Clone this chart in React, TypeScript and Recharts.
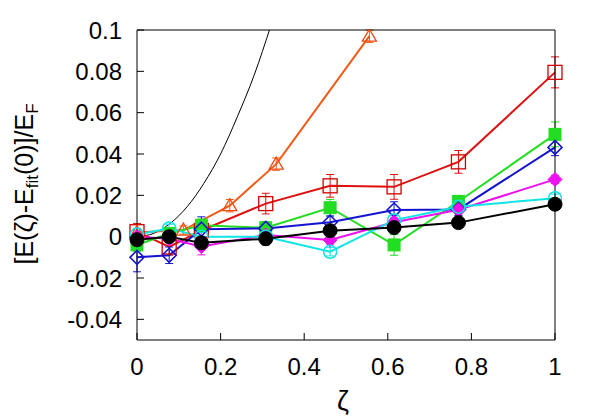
import { ErrorBar, Line, LineChart, XAxis, YAxis } from "recharts";

// zeta grid used by most runs, and the finer one of the orange run
const zeta = [0, 0.077, 0.154, 0.308, 0.462, 0.615, 0.769, 1];
const zetaOrange = [0, 0.111, 0.222, 0.333, 0.556];

const redY = [0.0024, -0.005, 0.003, 0.016, 0.0246, 0.0241, 0.0362, 0.0795];
const redErr = [0.004, 0.004, 0.005, 0.005, 0.0055, 0.006, 0.0055, 0.0075];
const orangeY = [0.002, 0.0032, 0.015, 0.0351, 0.097];
const orangeErr = [0.002, 0.002, 0.003, 0.003, 0.003];
const greenY = [-0.004, 0.0015, 0.0055, 0.0043, 0.014, -0.004, 0.017, 0.0495];
const greenErr = [0.003, 0.003, 0.003, 0.003, 0.004, 0.005, 0.003, 0.006];
const blueY = [-0.01, -0.009, 0.0036, 0.004, 0.007, 0.0129, 0.0132, 0.0432];
const blueErr = [0.007, 0.004, 0.006, 0.003, 0.003, 0.004, 0.003, 0.004];
const magentaY = [0.0, -0.001, -0.0048, 0.0008, -0.0016, 0.007, 0.013, 0.0277];
const magentaErr = [0.002, 0.002, 0.004, 0.002, 0.002, 0.002, 0.002, 0.002];
const cyanY = [0.001, 0.004, 0.0, 0.0, -0.0073, 0.008, 0.0145, 0.0186];
const cyanErr = [0.002, 0.002, 0.002, 0.002, 0.002, 0.002, 0.002, 0.002];
const blackY = [-0.0015, 0.0, -0.003, -0.001, 0.0029, 0.0044, 0.0068, 0.0157];
const blackErr = [0.002, 0.002, 0.002, 0.003, 0.002, 0.002, 0.002, 0.002];

// thin reference curve
const curveZeta = [0, 0.04, 0.08, 0.12, 0.16, 0.2, 0.24, 0.28, 0.32];
const curveY = [0, 0.0016, 0.0065, 0.0145, 0.0258, 0.04, 0.058, 0.078, 0.102];

const xTicks = [0, 0.2, 0.4, 0.6, 0.8, 1];
const yTicks = [-0.04, -0.02, 0, 0.02, 0.04, 0.06, 0.08, 0.1];

const FONT = "'Liberation Sans', Arial, sans-serif";

const rows = (xs: number[], ys: number[], es?: number[]) =>
  xs.map((x, i) => ({ x, y: ys[i], e: es ? es[i] : 0 }));

const openSquare = (c: string) => (p: any) =>
  <rect key={`s${p.index}`} x={p.cx - 7} y={p.cy - 7} width={14} height={14} fill="none" stroke={c} strokeWidth={1.3} />;
const fillSquare = (c: string) => (p: any) =>
  <rect key={`f${p.index}`} x={p.cx - 6} y={p.cy - 6} width={12} height={12} fill={c} stroke={c} />;
const openTriangle = (c: string) => (p: any) =>
  <path key={`t${p.index}`} d={`M${p.cx},${p.cy - 7} L${p.cx + 7},${p.cy + 5} L${p.cx - 7},${p.cy + 5} Z`} fill="none" stroke={c} strokeWidth={1.3} />;
const diamond = (c: string, filled: boolean) => (p: any) =>
  <path key={`d${p.index}`} d={`M${p.cx},${p.cy - 7} L${p.cx + 7},${p.cy} L${p.cx},${p.cy + 7} L${p.cx - 7},${p.cy} Z`} fill={filled ? c : "none"} stroke={c} strokeWidth={filled ? 1 : 1.6} />;
const circle = (c: string, filled: boolean) => (p: any) =>
  <circle key={`c${p.index}`} cx={p.cx} cy={p.cy} r={filled ? 7 : 6.5} fill={filled ? c : "none"} stroke={c} strokeWidth={filled ? 1 : 1.5} />;

const series = [
  { name: "red", color: "#e01010", data: rows(zeta, redY, redErr), dot: openSquare("#d00000") },
  { name: "orange", color: "#f05a18", data: rows(zetaOrange, orangeY, orangeErr), dot: openTriangle("#f04a10") },
  { name: "green", color: "#22dd22", data: rows(zeta, greenY, greenErr), dot: fillSquare("#22dd22") },
  { name: "blue", color: "#1414d0", data: rows(zeta, blueY, blueErr), dot: diamond("#1414d0", false) },
  { name: "magenta", color: "#ee10ee", data: rows(zeta, magentaY, magentaErr), dot: diamond("#ee10ee", true) },
  { name: "cyan", color: "#10e4e4", data: rows(zeta, cyanY, cyanErr), dot: circle("#10e4e4", false) },
  { name: "black", color: "#000000", data: rows(zeta, blackY, blackErr), dot: circle("#000000", true) },
];

const tickStyle = { fontSize: 24, fill: "#000", fontFamily: FONT };

function YLabel() {
  return (
    <text transform="rotate(-90)" x={-184} y={33} textAnchor="middle" fontSize={25} fontFamily={FONT} fill="#000">
      [E(ζ)-E<tspan fontSize={17} dy={5}>fit</tspan>
      <tspan dy={-5}>(0)]/E</tspan>
      <tspan fontSize={17} dy={5}>F</tspan>
    </text>
  );
}

function XLabel(props: any) {
  const vb = props.viewBox || { x: 137, width: 418, y: 340 };
  return (
    <text x={vb.x + vb.width / 2 - 3} y={vb.y + 70} textAnchor="middle" fontSize={27} fontFamily={FONT} fill="#000">
      ζ
    </text>
  );
}

export default function App() {
  return (
    <div style={{ position: "absolute", left: 0, top: 0, background: "#fff" }}>
      <LineChart width={600} height={420} margin={{ top: 29, right: 44, bottom: 30, left: 77 }}>
        <XAxis
          dataKey="x"
          type="number"
          domain={[0, 1]}
          ticks={xTicks}
          tickFormatter={(v) => String(v)}
          tick={tickStyle}
          tickSize={-7}
          tickMargin={25}
          height={50}
          axisLine={{ stroke: "#000" }}
          tickLine={{ stroke: "#000" }}
          label={{ content: XLabel }}
        />
        <XAxis
          xAxisId="top"
          orientation="top"
          type="number"
          domain={[0, 1]}
          ticks={xTicks}
          tick={false}
          tickSize={-7}
          height={1}
          axisLine={{ stroke: "#000" }}
          tickLine={{ stroke: "#000" }}
        />
        <YAxis
          type="number"
          domain={[-0.05, 0.1]}
          ticks={yTicks}
          allowDataOverflow
          tickFormatter={(v) => String(Math.round(v * 100) / 100)}
          tick={tickStyle}
          tickSize={-7}
          tickMargin={22}
          width={60}
          axisLine={{ stroke: "#000" }}
          tickLine={{ stroke: "#000" }}
          label={{ content: YLabel }}
        />
        <YAxis
          yAxisId="right"
          orientation="right"
          type="number"
          domain={[-0.05, 0.1]}
          ticks={yTicks}
          tick={false}
          tickSize={-7}
          width={1}
          axisLine={{ stroke: "#000" }}
          tickLine={{ stroke: "#000" }}
        />
        <Line
          data={rows(curveZeta, curveY)}
          dataKey="y"
          type="monotone"
          stroke="#000"
          strokeWidth={1}
          dot={false}
          isAnimationActive={false}
        />
        {series.map((s) => (
          <Line
            key={s.name}
            data={s.data}
            dataKey="y"
            type="linear"
            stroke={s.color}
            strokeWidth={2}
            dot={s.dot}
            activeDot={false}
            isAnimationActive={false}
          >
            <ErrorBar dataKey="e" direction="y" width={4} stroke={s.color} strokeWidth={1} isAnimationActive={false} />
          </Line>
        ))}
      </LineChart>
    </div>
  );
}
